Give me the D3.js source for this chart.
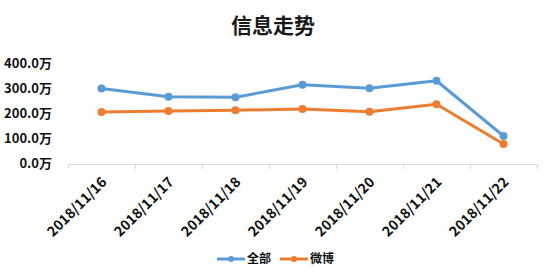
<!DOCTYPE html>
<html>
<head>
<meta charset="utf-8">
<script src="https://cdn.jsdelivr.net/npm/d3@7"></script>
<style>
  body { margin: 0; background: #fff; }
  text { font-family: "Noto Sans CJK SC", "Noto Sans", sans-serif; }
</style>
</head>
<body>
<svg id="chart" width="550" height="279"></svg>
<script>
var dates = ["2018/11/16", "2018/11/17", "2018/11/18", "2018/11/19", "2018/11/20", "2018/11/21", "2018/11/22"];
var allValues = [298, 265, 263, 313, 299, 329, 108];
var weiboValues = [204, 208, 211, 216, 205, 235, 76];
var yTicks = [0, 100, 200, 300, 400];

var series = [
  {key: "全部", values: allValues, color: "#5B9BD5"},
  {key: "微博", values: weiboValues, color: "#ED7D31"}
];

var svg = d3.select("#chart");

// title
svg.append("text")
  .attr("x", 273).attr("y", 33)
  .attr("text-anchor", "middle")
  .attr("font-size", 21).attr("font-weight", "bold")
  .attr("fill", "#1a1a1a")
  .text("信息走势");

var x = d3.scaleBand().domain(dates).range([68, 537]);
var y = d3.scaleLinear().domain([0, 400]).range([163, 63]);

// y labels, no axis line
svg.append("g").selectAll("text")
  .data(yTicks).enter().append("text")
  .attr("x", 52)
  .attr("y", function(d){ return y(d); })
  .attr("dy", "0.35em")
  .attr("text-anchor", "end")
  .attr("font-size", 13).attr("font-weight", "bold")
  .attr("fill", "#111")
  .text(function(d){ return d3.format(".1f")(d) + "万"; });

// x axis line and ticks
var xAxis = svg.append("g");
xAxis.append("line")
  .attr("x1", 68).attr("x2", 537)
  .attr("y1", 164.5).attr("y2", 164.5)
  .attr("stroke", "#d9d9d9");
xAxis.selectAll("line.tick")
  .data(dates.concat([null])).enter().append("line")
  .attr("class", "tick")
  .attr("x1", function(d, i){ return Math.round(68 + i * x.step()) + 0.5; })
  .attr("x2", function(d, i){ return Math.round(68 + i * x.step()) + 0.5; })
  .attr("y1", 164).attr("y2", 169)
  .attr("stroke", "#d9d9d9");

xAxis.selectAll("text")
  .data(dates).enter().append("text")
  .attr("transform", function(d){
    return "translate(" + (x(d) + x.bandwidth() / 2 + 6) + ",183) rotate(-45)";
  })
  .attr("text-anchor", "end")
  .attr("font-size", 14).attr("font-weight", "bold")
  .attr("fill", "#111")
  .text(function(d){ return d; });

var line = d3.line()
  .x(function(d, i){ return x(dates[i]) + x.bandwidth() / 2; })
  .y(function(d){ return y(d); });

series.forEach(function(s){
  svg.append("path")
    .datum(s.values)
    .attr("d", line)
    .attr("fill", "none")
    .attr("stroke", s.color)
    .attr("stroke-width", 3)
    .attr("stroke-linejoin", "round");
  svg.append("g").selectAll("circle")
    .data(s.values).enter().append("circle")
    .attr("cx", function(d, i){ return x(dates[i]) + x.bandwidth() / 2; })
    .attr("cy", function(d){ return y(d); })
    .attr("r", 4)
    .attr("fill", s.color);
});

// legend
var legend = svg.append("g");
series.forEach(function(s, i){
  var lx = 217 + i * 63;
  legend.append("line")
    .attr("x1", lx).attr("x2", lx + 28)
    .attr("y1", 259).attr("y2", 259)
    .attr("stroke", s.color).attr("stroke-width", 3);
  legend.append("circle")
    .attr("cx", lx + 14).attr("cy", 259).attr("r", 3)
    .attr("fill", s.color);
  legend.append("text")
    .attr("x", lx + 30).attr("y", 259)
    .attr("dy", "0.35em")
    .attr("font-size", 12).attr("font-weight", "bold")
    .attr("fill", "#111")
    .text(s.key);
});
</script>
</body>
</html>
